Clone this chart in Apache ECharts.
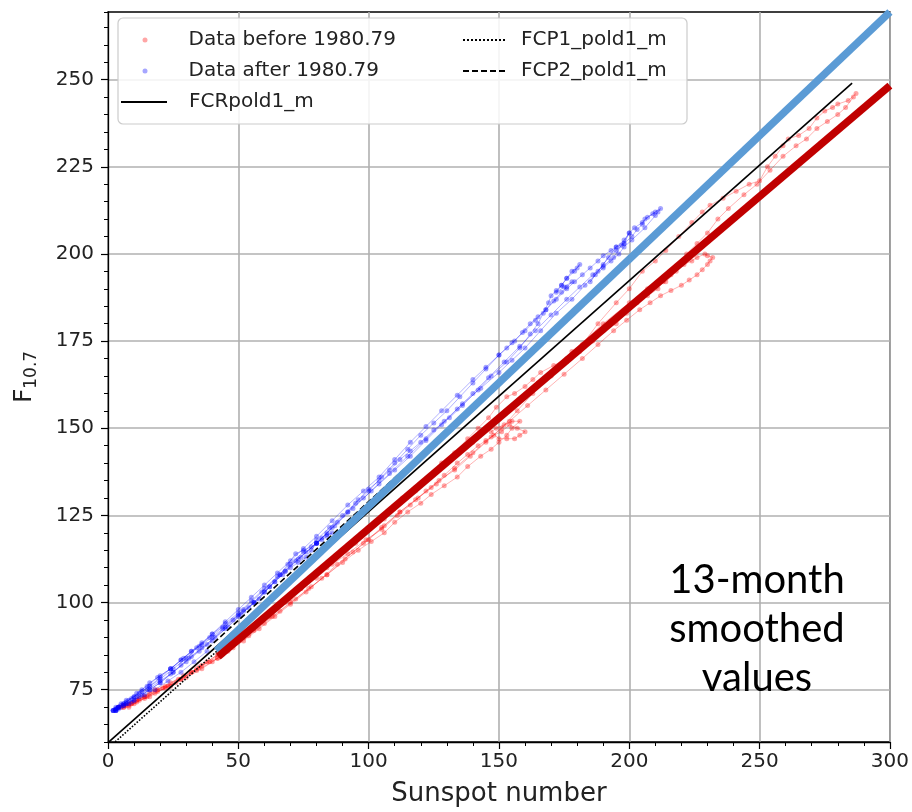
<!DOCTYPE html>
<html><head><meta charset="utf-8">
<script src="https://cdn.jsdelivr.net/npm/echarts@6/dist/echarts.min.js"></script>
<style>html,body{margin:0;padding:0;background:#fff}#c{width:912px;height:812px}</style>
</head><body><div id="c"></div>
<script>
// ---- tick labels ----
const xTicks = [0, 50, 100, 150, 200, 250, 300];
const yTicks = [75, 100, 125, 150, 175, 200, 225, 250];

// ---- data before 1980.79 (13-month smoothed, [sunspot, F10.7]) ----
const redCycle18 = [[218,195],[214,192],[207,190],[200,186],[190,180],[178,172],[165,163],[152,154],[140,146],[128,139],[118,132],[106,124],[95,117],[84,110],[74,104],[63,97],[52,90],[42,84],[36,82],[32,80],[27,78],[22,76],[18,75],[14,73],[11,72],[8,71],[6,70.5],[5,70]];
const redCycle19Rise = [[4,70],[6,70.5],[9,71],[12,72.5],[16,74],[21,75.5],[26,77],[32,80],[38,83],[44,86],[50,89],[56,92.5],[62,96],[68,100],[74,104],[80,107],[86,111],[92,114],[99,118],[105,121],[111,125],[116,128],[122,132],[127,135],[133,138],[139,142],[145,146],[151,150],[157,155],[163,160],[170,165],[176,169],[182,174],[188,180],[195,186],[200,190],[205,195],[210,198],[214,201],[219,205],[224,209],[228,212],[231,214],[236,216],[241,218],[246,220],[250,221],[253,225],[256,228],[259,231],[261,233],[265,234],[269,236],[272,239],[275,241],[278,242],[280,243],[284,244],[287,246]];
const redCycle19Decline = [[286,245],[283,242],[280,240],[276,238],[272,236],[268,233],[264,231],[259,228],[254,224],[249,220],[244,217],[238,213],[234,210],[230,206],[226,203],[222,200],[219,197],[216,194],[213,192],[211,190],[207,188],[203,186],[199,183],[195,180],[190,178],[186,175],[181,172],[176,170],[171,168],[166,166],[163,164],[160,162],[156,160],[153,159],[149,156],[146,153],[142,150],[138,147],[133,143],[128,140],[123,136],[118,133],[113,130],[108,126],[103,123],[97,119],[92,116],[86,112],[81,109],[75,105],[70,101],[64,98],[59,95],[54,92],[49,89],[44,86],[39,83],[34,81],[29,79],[24,77],[19,75],[15,73],[12,72],[9,71],[7,70.5]];
const redCycle20 = [[6,70],[10,71.5],[14,73],[19,74.5],[24,76],[30,78.5],[36,81],[42,84],[48,87],[54,90.5],[60,94],[66,97.5],[72,101],[78,104.5],[84,108],[90,111.5],[96,115],[101,117.5],[106,120],[110,123],[115,126],[120,128.5],[124,131],[129,133.5],[134,136],[138,139],[143,142],[147,144],[150,146],[153,148],[155,150],[158,152],[155,152],[152,151],[149,150],[147,149],[150,147],[153,147],[156,147],[158,148],[160,149],[157,150],[154,151],[151,149],[148,148],[145,146.5],[142,145],[138,142.5],[134,140],[129,136.5],[124,133],[118,129.5],[112,126],[106,122],[100,118],[94,114.5],[88,111],[82,107],[76,103],[70,99.5],[64,96],[58,92.5],[52,89],[46,86],[40,83],[34,80.5],[28,78],[23,76],[18,74],[14,72.5],[10,71],[8,70.5],[6,70]];
const redCycle21Rise = [[8,70],[11,71.5],[16,73],[22,75.5],[28,78],[35,81.5],[42,85],[49,88.5],[56,92],[63,96],[70,100],[77,104],[84,108],[91,112.5],[98,117],[105,121.5],[112,126],[119,130],[126,134],[133,138.5],[140,143],[147,147.5],[154,152],[161,156.5],[168,161],[175,165.5],[182,170],[188,174],[194,178],[199,181],[204,184],[208,186],[212,188],[216,189.5],[220,191],[223,192.5],[226,194],[228,195.5],[230,197],[231,198],[232,199],[230,199.5],[229,200],[226,199],[224,198],[221,197]];

// ---- data after 1980.79 ----
const blueCycle21Decline = [[210,212],[207,210.5],[205,209],[202,207.5],[200,206],[198,203],[195,202],[193,201],[190,199.5],[188,198],[185,196],[182,194],[179,192],[176,190],[172,187],[168,184],[164,181],[160,178],[155,174.5],[150,171],[145,167],[140,163],[135,159],[130,155],[125,151.5],[120,148],[115,144],[110,140],[105,136],[100,132],[95,128.5],[90,125],[85,121.5],[80,118],[75,114.5],[70,111],[65,107.5],[60,104],[55,100.5],[50,97],[45,94],[40,91],[36,88.5],[32,86],[28,83.5],[24,81],[20,79],[16,77],[13,75],[10,73],[7,72],[5,71],[3,70],[2,69]];
const blueCycle22 = [[3,69],[4,69.5],[6,70.5],[8,71],[11,73],[15,75],[20,77.5],[25,80],[31,84],[38,88],[45,93],[52,98],[59,103],[66,108],[73,112.5],[80,117],[87,122],[94,127],[101,132],[108,137],[115,142],[122,147],[129,152],[136,157],[143,161.5],[150,166],[155,169.5],[160,173],[166,178],[172,183],[178,187],[183,191],[188,195],[192,199],[195,201],[198,203],[201,205],[203,207],[205,208.5],[206,210],[209,211.5],[212,213],[211,212],[210,211],[206,207.5],[201,204],[198,202],[196,200],[193,198],[190,196],[187,194],[185,192],[190,197],[195,202],[198,204],[200,206],[197,202.5],[194,199],[190,196.5],[186,194],[181,190.5],[176,187],[170,182.5],[164,178],[158,173.5],[152,169],[146,164.5],[140,160],[134,155.5],[128,151],[122,146.5],[116,142],[110,138],[104,134],[98,130],[92,126],[86,121.5],[80,117],[74,113],[68,109],[62,104.5],[56,100],[50,96.5],[44,93],[39,90],[34,87],[29,84],[24,81],[19,78.5],[15,76],[11,74],[8,72],[6,71],[4,70],[3,69]];
const blueCycle23 = [[3,69],[5,70],[7,71],[10,72],[13,73.5],[16,75],[20,77],[24,79.5],[28,82],[32,84.5],[36,87],[41,90],[46,93],[51,96.5],[56,100],[60,103],[64,106],[68,109],[72,112],[76,114.5],[80,117],[84,120],[88,123],[92,126],[96,129.5],[100,132.5],[104,135],[108,138],[112,141],[116,143.5],[120,146],[125,149.5],[131,153],[136,156.5],[142,161],[147,165],[153,169],[158,173],[162,177],[165,180],[167,183],[169,186],[170,188],[172,189.5],[174,191],[176,193],[178,195],[180,196],[181,197],[179,195],[176,193],[174,191],[172,189],[175,190.5],[178,192],[176,190.5],[174,189],[171,186.5],[168,184],[165,182],[162,180],[159,177.5],[156,175],[153,173],[150,171],[145,167.5],[140,164],[134,159.5],[128,155],[122,150.5],[116,146],[110,141],[104,136],[98,132],[92,128],[86,123.5],[80,119],[75,115.5],[70,112],[65,108.5],[60,105],[55,101.5],[50,98],[45,94.5],[40,91],[35,87.5],[30,84],[25,81],[20,78],[16,76],[12,74],[9,72.5],[6,71],[4,70],[3,69]];
const blueCycle24 = [[2,69],[3,69.5],[4,70],[6,70.5],[9,71.5],[12,73],[16,75],[20,77],[25,80],[30,83],[35,86],[40,89],[45,92.5],[50,96],[54,98.5],[58,101],[62,104.5],[66,108],[69,111],[72,114],[75,115],[78,116],[80,117],[82,118],[84,119],[86,120],[84,119.5],[82,118.5],[80,117],[78,115],[76,113],[73,111.5],[70,110],[67,108],[64,106],[60,103],[56,100],[52,97.5],[48,95],[44,92.5],[40,90],[36,88],[32,86],[28,83.5],[24,81],[20,78.5],[16,76],[13,74.5],[10,73],[7,71.5],[4,70],[3,69.5],[2,69]];
const blueCycle25 = [[2,69],[3,69.5],[4,70],[5,70.5],[7,71],[10,72],[14,73.5],[18,75],[23,77.5],[28,80],[33,83],[38,86]];

// ---- fitted / highlighted lines (end points) ----
const fcrLine = [[0,59.8],[285.5,249]];
const fcp1Line = [[0,58.2],[42,86.2]];
const fcp2Line = [[38,86.7],[140,156.2]];
const blueHighlight = [[41.6,86.2],[300,269.4]];
const redHighlight = [[42.3,84.5],[300,248.3]];

const FONT = 'DejaVu Sans';
const NAME_BEFORE = 'Data before 1980.79';
const NAME_AFTER = 'Data after 1980.79';

function trace(name, data, rgb) {
  return {
    type: 'line', name: name, data: data, symbol: 'circle', symbolSize: 5,
    showSymbol: true, silent: true, z: 2,
    itemStyle: { color: 'rgba(' + rgb + ',0.35)' },
    lineStyle: { color: 'rgba(' + rgb + ',0.3)', width: 1 }
  };
}
function fit(name, data, color, width, type, z) {
  return {
    type: 'line', name: name, data: data, symbol: 'none', silent: true, z: z,
    itemStyle: { color: color },
    lineStyle: { color: color, width: width, type: type, cap: 'butt' }
  };
}

const series = [];
[redCycle18, redCycle19Rise, redCycle19Decline, redCycle20, redCycle21Rise].forEach(d => series.push(trace(NAME_BEFORE, d, '255,0,0')));
[blueCycle21Decline, blueCycle22, blueCycle23, blueCycle24, blueCycle25].forEach(d => series.push(trace(NAME_AFTER, d, '0,0,255')));
series.push(fit('FCRpold1_m', fcrLine, '#000', 1.6, 'solid', 3));
series.push(fit('FCP1_pold1_m', fcp1Line, '#000', 1.6, 'dotted', 3));
series.push(fit('FCP2_pold1_m', fcp2Line, '#000', 1.6, [6, 3], 3));
series.push(fit('blueHL', blueHighlight, '#5b9bd5', 7.5, 'solid', 4));
series.push(fit('redHL', redHighlight, '#c00000', 7.5, 'solid', 4));

const labelStyle = { fontFamily: FONT, fontSize: 20, color: '#222' };
const hiddenSymbol = { opacity: 0, color: 'rgba(0,0,0,0)', borderWidth: 0 };

const option = {
  animation: false,
  backgroundColor: '#fff',
  grid: { left: 108, right: 21, top: 12, bottom: 67, show: true, borderColor: '#000', borderWidth: 1.3, backgroundColor: 'transparent' },
  xAxis: [{
    type: 'value', min: 0, max: 300, interval: 50,
    axisLine: { onZero: false, lineStyle: { color: '#000', width: 1.3 } },
    axisTick: { length: 7, lineStyle: { color: '#000', width: 1.2 } },
    minorTick: { show: true, splitNumber: 5, length: 4, lineStyle: { color: '#000', width: 1 } },
    splitLine: { show: true, lineStyle: { color: '#b0b0b0', width: 1.6 } },
    axisLabel: Object.assign({ margin: 10, customValues: xTicks }, labelStyle),
    name: 'Sunspot number', nameLocation: 'middle', nameGap: 39,
    nameTextStyle: { fontFamily: FONT, fontSize: 26, color: '#222' }
  }],
  yAxis: [{
    type: 'value', min: 60, max: 269.4, position: 'left',
    axisLine: { show: true, onZero: false, lineStyle: { color: '#000', width: 1.3 } },
    axisTick: { show: true, length: 7, customValues: yTicks, lineStyle: { color: '#000', width: 1.2 } },
    axisLabel: Object.assign({ margin: 14, customValues: yTicks }, labelStyle),
    splitLine: { show: true, lineStyle: { color: '#b0b0b0', width: 1.6 } },
    name: '{a|F}{b|10.7}', nameLocation: 'middle', nameGap: 68, nameRotate: 90,
    nameTextStyle: { color: '#222', rich: { a: { fontFamily: FONT, fontSize: 25, color: '#222' }, b: { fontFamily: FONT, fontSize: 17, color: '#222', padding: [14, 0, 0, 0] } } }
  }, {
    type: 'value', min: 60, max: 269.4, interval: 5, position: 'left',
    axisLine: { show: false },
    axisTick: { show: true, length: 4, lineStyle: { color: '#000', width: 1 } },
    axisLabel: { show: false }, splitLine: { show: false }
  }],
  legend: [{
    data: [{ name: NAME_BEFORE, icon: 'circle' }, { name: NAME_AFTER, icon: 'circle' }],
    orient: 'vertical', left: 142.5, top: 28, padding: 0, itemWidth: 5, itemHeight: 5, itemGap: 7,
    selectedMode: false, z: 100,
    textStyle: Object.assign({ lineHeight: 24, padding: [0, 0, 0, 36] }, labelStyle)
  }, {
    data: ['FCRpold1_m'], orient: 'vertical', left: 120, top: 90, padding: 0, itemWidth: 46, itemHeight: 14,
    selectedMode: false, z: 100, itemStyle: hiddenSymbol,
    textStyle: Object.assign({ lineHeight: 24, padding: [0, 0, 0, 17] }, labelStyle)
  }, {
    data: ['FCP1_pold1_m', 'FCP2_pold1_m'], orient: 'vertical', left: 462, top: 28, padding: 0, itemWidth: 42, itemHeight: 14, itemGap: 7,
    selectedMode: false, z: 100, itemStyle: hiddenSymbol,
    textStyle: Object.assign({ lineHeight: 24, padding: [0, 0, 0, 11] }, labelStyle)
  }],
  graphic: [{
    type: 'rect', z: 50, silent: true,
    shape: { x: 118, y: 18, width: 569, height: 106, r: 5 },
    style: { fill: 'rgba(255,255,255,0.85)', stroke: '#cccccc', lineWidth: 1.2 }
  }, {
    type: 'text', z: 60, silent: true,
    style: { text: '13-month\nsmoothed\nvalues', x: 757, y: 556, align: 'center', textAlign: 'center', verticalAlign: 'top',
      fontFamily: 'Lato', fontSize: 40, lineHeight: 49, fill: '#000' }
  }],
  series: series
};
const chart = echarts.init(document.getElementById('c'));
chart.setOption(option);
</script>
</body></html>
